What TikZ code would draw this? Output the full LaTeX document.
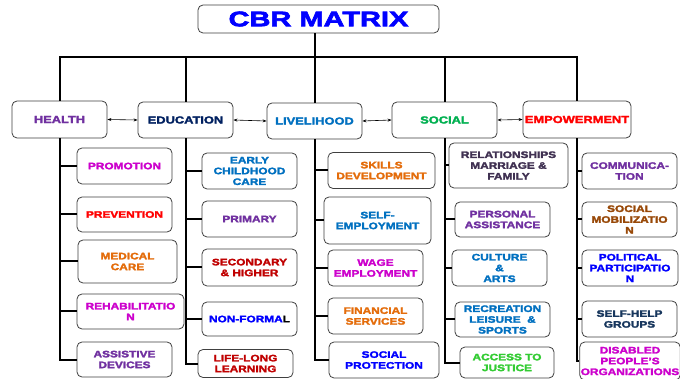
\documentclass[tikz,border=0pt]{standalone}
\usepackage{fontspec}
\setmainfont{Liberation Sans}[UprightFont=* Bold, BoldFont=* Bold, FakeStretch=1.26, FakeBold=2.6]
\newfontfamily\titlefam{Liberation Sans}[UprightFont=* Bold, BoldFont=* Bold, FakeStretch=1.38, FakeBold=3.2]
\usetikzlibrary{arrows.meta}
\definecolor{hpurple}{HTML}{7030A0}
\definecolor{navy}{HTML}{002060}
\definecolor{lblue}{HTML}{0070C0}
\definecolor{sgreen}{HTML}{00B050}
\definecolor{mag}{HTML}{CC00CC}
\definecolor{orng}{HTML}{E46C0A}
\definecolor{dred}{HTML}{C00000}
\definecolor{bblue}{HTML}{0000FF}
\definecolor{relgray}{HTML}{403152}
\definecolor{agreen}{HTML}{33CC33}
\definecolor{brwn}{HTML}{984807}
\definecolor{dnavy}{HTML}{17365D}
\tikzset{
  box/.style={draw=black!75, line width=0.8pt, rounded corners=5pt, fill=white,
    align=center, inner sep=1pt, font=\fontsize{9.4}{10.8}\selectfont},
  cat/.style={box, font=\fontsize{10.2}{12}\selectfont},
  spine/.style={line width=2pt, black},
  link/.style={line width=0.6pt, {Stealth[length=4pt,width=3pt]}-{Stealth[length=4pt,width=3pt]}},
}
\begin{document}
\begin{tikzpicture}[x=1pt,y=-1pt]
\useasboundingbox (0,0) rectangle (680,379);
\fill[white] (0,0) rectangle (680,379);

% title
\node[box, minimum width=241pt, minimum height=28pt, text=bblue,
  font=\titlefam\fontsize{21}{24}\selectfont] (title) at (318.5,19) {CBR MATRIX};

% categories
\node[cat, minimum width=95pt, minimum height=37pt, text=hpurple] (health) at (59.5,119.5) {HEALTH};
\node[cat, minimum width=95pt, minimum height=36pt, text=navy] (edu) at (185.5,120) {EDUCATION};
\node[cat, minimum width=95pt, minimum height=36pt, text=lblue] (liv) at (314.5,121) {LIVELIHOOD};
\node[cat, minimum width=105pt, minimum height=36pt, text=sgreen] (soc) at (444.5,120) {SOCIAL};
\node[cat, minimum width=108pt, minimum height=37pt, text=red] (emp) at (577,119.5) {EMPOWERMENT};

% health children
\node[box, minimum width=95pt, minimum height=36pt, text=mag] (h1) at (124.5,166) {PROMOTION};
\node[box, minimum width=95pt, minimum height=35pt, text=red] (h2) at (124.5,214.5) {PREVENTION};
\node[box, minimum width=99pt, minimum height=43pt, text=orng] (h3) at (127.5,261.5) {MEDICAL\\CARE};
\node[box, minimum width=107pt, minimum height=35pt, text=mag] (h4) at (130.5,311.5) {REHABILITATIO\\N};
\node[box, minimum width=95pt, minimum height=35pt, text=hpurple] (h5) at (124.5,359.5) {ASSISTIVE\\DEVICES};

% education children
\node[box, minimum width=95pt, minimum height=36pt, text=lblue] (e1) at (249.5,171) {EARLY\\CHILDHOOD\\CARE};
\node[box, minimum width=95pt, minimum height=36pt, text=hpurple] (e2) at (249.5,219) {PRIMARY};
\node[box, minimum width=95pt, minimum height=37pt, text=dred] (e3) at (249.5,267.5) {SECONDARY\\\& HIGHER};
\node[box, minimum width=95pt, minimum height=34pt, text=bblue] (e4) at (249.5,319) {NON-FORMA\textcolor{black}{L}};
\node[box, minimum width=95pt, minimum height=28pt, text=dred] (e5) at (245.5,363.5) {LIFE-LONG\\LEARNING};

% livelihood children
\node[box, minimum width=107pt, minimum height=36pt, text=orng] (l1) at (381.5,170.5) {SKILLS\\DEVELOPMENT};
\node[box, minimum width=107pt, minimum height=47pt, text=lblue] (l2) at (377.5,220.5) {SELF-\\EMPLOYMENT};
\node[box, minimum width=95pt, minimum height=36pt, text=mag] (l3) at (375.5,268) {WAGE\\EMPLOYMENT};
\node[box, minimum width=95pt, minimum height=36pt, text=orng] (l4) at (375.5,316) {FINANCIAL\\SERVICES};
\node[box, minimum width=110pt, minimum height=36pt, text=bblue] (l5) at (384,360) {SOCIAL\\PROTECTION};

% social children
\node[box, minimum width=119pt, minimum height=45pt, text=relgray] (s1) at (508.5,165.5) {RELATIONSHIPS\\MARRIAGE \&\\FAMILY};
\node[box, minimum width=95pt, minimum height=35pt, text=hpurple] (s2) at (502.5,219.5) {PERSONAL\\ASSISTANCE};
\node[box, minimum width=95pt, minimum height=36pt, text=lblue] (s3) at (499.5,268) {CULTURE\\\&\\ARTS};
\node[box, minimum width=95pt, minimum height=35pt, text=lblue] (s4) at (502.5,319.5) {RECREATION\\LEISURE\ \ \&\\SPORTS};
\node[box, minimum width=94pt, minimum height=31pt, text=agreen] (s5) at (507,362.5) {ACCESS TO\\JUSTICE};

% empowerment children
\node[box, minimum width=95pt, minimum height=36pt, text=hpurple] (p1) at (629.5,171) {COMMUNICA-\\TION};
\node[box, minimum width=95pt, minimum height=35pt, text=brwn] (p2) at (629.5,219.5) {SOCIAL\\MOBILIZATIO\\N};
\node[box, minimum width=96pt, minimum height=36pt, text=bblue] (p3) at (630,268) {POLITICAL\\PARTICIPATIO\\N};
\node[box, minimum width=95pt, minimum height=36pt, text=dnavy] (p4) at (629.5,319) {SELF-HELP\\GROUPS};
\node[box, minimum width=94pt, minimum height=38pt, text=mag] (p5) at (630,361) {DISABLED\\PEOPLE'S\\ORGANIZATIONS};

% bus from title
\coordinate (busy) at (0,57);
\draw[spine] (title.south -| liv.north) -- (busy -| liv.north);
\draw[spine] (health.north) -- (health.north |- busy) -- (emp.north |- busy) -- (emp.north);
\draw[spine] (edu.north) -- (edu.north |- busy);
\draw[spine] (liv.north) -- (liv.north |- busy);
\draw[spine] (soc.north) -- (soc.north |- busy);

% links between categories
\draw[link] (health.east) -- (edu.west);
\draw[link] (edu.east) -- (liv.west);
\draw[link] (liv.east) -- (soc.west);
\draw[link] (soc.east) -- (emp.west);

% spines and branches
\foreach \c/\k in {health/h, edu/e, liv/l, soc/s, emp/p}{
  \foreach \i in {1,...,5}{
    \draw[spine] (\c.south) |- (\k\i.west);
  }
}
\end{tikzpicture}
\end{document}
